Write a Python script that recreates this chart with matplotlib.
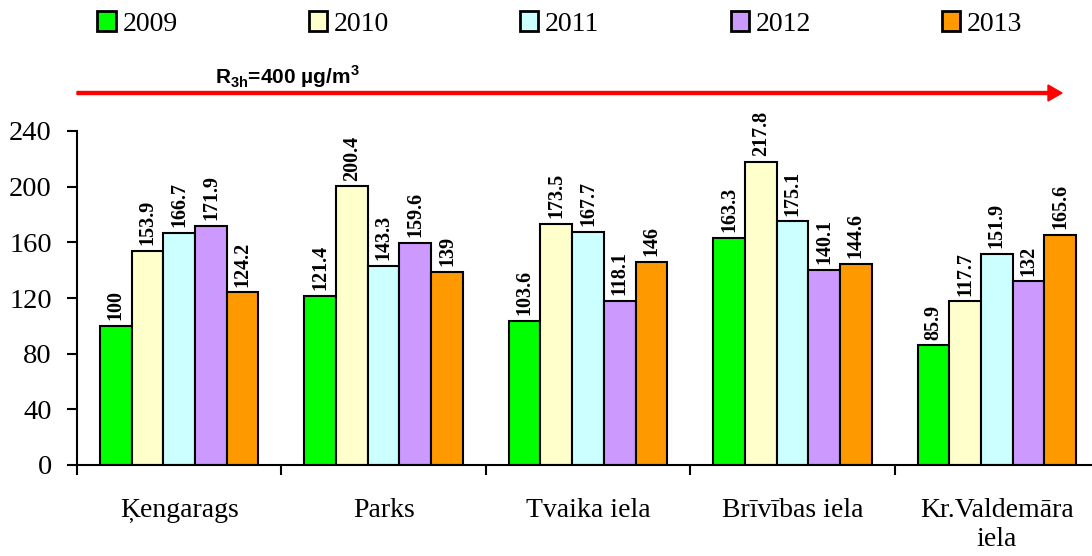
import matplotlib
matplotlib.use("Agg")
import matplotlib.pyplot as plt
from matplotlib.patches import Patch
import numpy as np

plt.rcParams['font.family'] = ['Liberation Serif', 'DejaVu Serif']
plt.rcParams['mathtext.fontset'] = 'custom'
plt.rcParams['mathtext.rm'] = 'Liberation Sans'
plt.rcParams['mathtext.bf'] = 'Liberation Sans:bold'

# data
stations = ['Ķengarags', 'Parks', 'Tvaika iela', 'Brīvības iela', 'Kr.Valdemāra\niela']
years = ['2009', '2010', '2011', '2012', '2013']
v2009 = [100, 121.4, 103.6, 163.3, 85.9]
v2010 = [153.9, 200.4, 173.5, 217.8, 117.7]
v2011 = [166.7, 143.3, 167.7, 175.1, 151.9]
v2012 = [171.9, 159.6, 118.1, 140.1, 132]
v2013 = [124.2, 139, 146, 144.6, 165.6]
colors = ['#00FF00', '#FFFFCC', '#CCFFFF', '#CC99FF', '#FF9900']

series = [v2009, v2010, v2011, v2012, v2013]

W, H = 1092, 556
fig = plt.figure(figsize=(W / 100, H / 100), dpi=100)
ax = fig.add_axes([77 / W, (H - 465) / H, 1022 / W, 334 / H])

x = np.arange(len(stations)) + 0.5
bw = 0.155
for j, vals in enumerate(series):
    pos = x + (j - 2) * bw
    ax.bar(pos, vals, bw, color=colors[j], edgecolor='black', linewidth=1.5, label=years[j])
    for p, v in zip(pos, vals):
        ax.annotate('%g' % v, (p, v), xytext=(0, 4), textcoords='offset points',
                    rotation=90, ha='center', va='bottom', fontsize=14.5, fontweight='bold')

ax.set_xlim(0, 5)
ax.set_ylim(0, 240)
ax.set_yticks(range(0, 241, 40))
ax.set_xticks(np.arange(0, 6))
ax.set_xticklabels([])
ax.set_xticks(x, minor=True)
ax.set_xticklabels(stations, minor=True, fontsize=20, linespacing=1.2)
ax.tick_params(axis='x', which='minor', length=0, pad=24)
ax.tick_params(axis='x', which='major', direction='out', length=7, width=1.5)
ax.tick_params(axis='y', direction='out', length=7, width=1.5, labelsize=20.5, pad=11)
for s in ['top', 'right']:
    ax.spines[s].set_visible(False)
for s in ['left', 'bottom']:
    ax.spines[s].set_linewidth(1.5)

handles = [Patch(facecolor=c, edgecolor='black', linewidth=2) for c in colors]
fig.legend(handles, years, loc='center', bbox_to_anchor=(560 / W, 1 - 24 / H), ncol=5,
           frameon=False, fontsize=20, handlelength=0.65, handleheight=0.7,
           handletextpad=0.25, columnspacing=4.72)

fig.patches.append(matplotlib.patches.FancyArrow(
    77 / W, 1 - 93 / H, (1062 - 77) / W, 0, width=3 / H, head_width=16 / H,
    head_length=14 / W, length_includes_head=True, color='#FF0000',
    transform=fig.transFigure, figure=fig))
fig.text(287 / W, 1 - 77 / H, r'R$_\mathbf{3h}$=400 µg/m$^\mathbf{3}$',
         family='Liberation Sans', fontweight='bold', fontsize=15, ha='center', va='center')

fig.savefig('out.png', dpi=100)
